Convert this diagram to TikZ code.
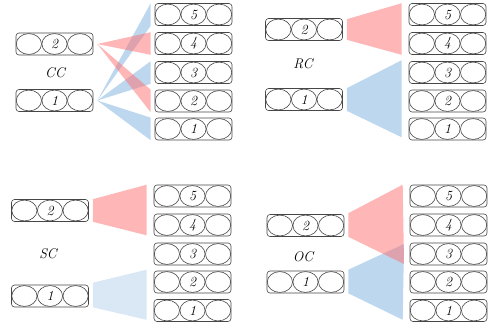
\documentclass[tikz,border=0pt]{standalone}
\usepackage{fontspec}
\usetikzlibrary{calc}
\definecolor{fanred}{RGB}{255,110,110}
\definecolor{fanblue}{RGB}{123,175,221}
\definecolor{fanpale}{RGB}{181,209,235}
\definecolor{edgegray}{RGB}{70,70,70}
\tikzset{
  slot/.style={draw=edgegray, line width=0.6pt, rounded corners=3pt, minimum width=77pt, minimum height=22pt, inner sep=0pt},
  ring/.style={draw=edgegray, line width=0.6pt},
  digit/.style={inner sep=0pt, font=\fontsize{14}{16}\selectfont\itshape},
  plabel/.style={inner sep=0pt, font=\fontsize{14}{16}\selectfont\itshape},
  redfan/.style={fill=fanred, fill opacity=0.5, draw=none},
  bluefan/.style={fill=fanblue, fill opacity=0.5, draw=none},
  palefan/.style={fill=fanpale, fill opacity=0.5, draw=none},
}
\newcommand\slotbox[4]{%
  \node[slot] (#1) at (#2,#3) {};
  \draw[ring] (#1.center) ellipse [x radius=12.6pt, y radius=10.4pt];
  \draw[ring] ($(#1.center)+(-25.6,0)$) ellipse [x radius=12.6pt, y radius=10.4pt];
  \draw[ring] ($(#1.center)+(25.6,0)$) ellipse [x radius=12.6pt, y radius=10.4pt];
  \node[digit] (#1-d) at (#1.center) {#4};
}
\begin{document}
\begin{tikzpicture}[x=1pt,y=-1pt]
\useasboundingbox (0,0) rectangle (489,325);
% ---------- CC ----------
\slotbox{ccL2}{54.5}{44}{2}
\slotbox{ccL1}{54.5}{100.5}{1}
\node[plabel] (cc) at (55,73) {CC};
\slotbox{ccR5}{193.5}{14.5}{5}
\slotbox{ccR4}{193.5}{43.5}{4}
\slotbox{ccR3}{193.5}{72.5}{3}
\slotbox{ccR2}{193.5}{101}{2}
\slotbox{ccR1}{193.5}{129}{1}
\foreach \r in {ccR5,ccR3,ccR1}
  \fill[bluefan] ($(ccL1.east)+(4,0)$) -- ($(\r.north west)+(-4,0)$) -- ($(\r.south west)+(-4,0)$) -- cycle;
\foreach \r in {ccR4,ccR2}
  \fill[redfan] ($(ccL2.east)+(4,0)$) -- ($(\r.north west)+(-4,0)$) -- ($(\r.south west)+(-4,0)$) -- cycle;
% ---------- RC ----------
\slotbox{rcL2}{304}{29.5}{2}
\slotbox{rcL1}{304}{99.5}{1}
\node[plabel] (rc) at (303,64) {RC};
\slotbox{rcR5}{447.5}{14.5}{5}
\slotbox{rcR4}{447.5}{43.5}{4}
\slotbox{rcR3}{447.5}{72.5}{3}
\slotbox{rcR2}{447.5}{101}{2}
\slotbox{rcR1}{447.5}{129}{1}
\fill[redfan] ($(rcL2.north east)+(4,1)$) -- ($(rcR5.north west)+(-7,0)$) -- ($(rcR4.south west)+(-7,0)$) -- ($(rcL2.south east)+(4,-1)$) -- cycle;
\fill[bluefan] ($(rcL1.north east)+(4,0)$) -- ($(rcR3.north west)+(-7,-1)$) -- ($(rcR1.south west)+(-7,-3)$) -- ($(rcL1.south east)+(4,0)$) -- cycle;
% ---------- SC ----------
\slotbox{scL2}{50}{210.5}{2}
\slotbox{scL1}{50}{296}{1}
\node[plabel] (sc) at (48,254) {SC};
\slotbox{scR5}{192.5}{196}{5}
\slotbox{scR4}{192.5}{225}{4}
\slotbox{scR3}{192.5}{254}{3}
\slotbox{scR2}{192.5}{282}{2}
\slotbox{scR1}{192.5}{310.5}{1}
\fill[redfan] ($(scL2.north east)+(4,0)$) -- ($(scR5.north west)+(-7,0)$) -- ($(scR4.south west)+(-7,-1)$) -- ($(scL2.south east)+(4,0)$) -- cycle;
\fill[palefan] ($(scL1.north east)+(4,-2)$) -- ($(scR2.north west)+(-7,-1)$) -- ($(scR1.south west)+(-7,-2)$) -- ($(scL1.south east)+(4,0)$) -- cycle;
% ---------- OC ----------
\slotbox{ocL2}{305.5}{225.5}{2}
\slotbox{ocL1}{305.5}{282}{1}
\node[plabel] (oc) at (303,257) {OC};
\slotbox{ocR5}{448.5}{196}{5}
\slotbox{ocR4}{448.5}{225}{4}
\slotbox{ocR3}{448.5}{254}{3}
\slotbox{ocR2}{448.5}{282}{2}
\slotbox{ocR1}{448.5}{310.5}{1}
\fill[bluefan] ($(ocL1.north east)+(4,-1)$) -- ($(ocR3.center)+(-44.5,-10)$) -- ($(ocR1.south west)+(-7,-2)$) -- ($(ocL1.south east)+(4,0)$) -- cycle;
\fill[redfan] ($(ocL2.north east)+(4,-1)$) -- ($(ocR5.north west)+(-7,0)$) -- ($(ocR3.center)+(-44.5,10)$) -- ($(ocL2.south east)+(4,0)$) -- cycle;
\end{tikzpicture}
\end{document}
